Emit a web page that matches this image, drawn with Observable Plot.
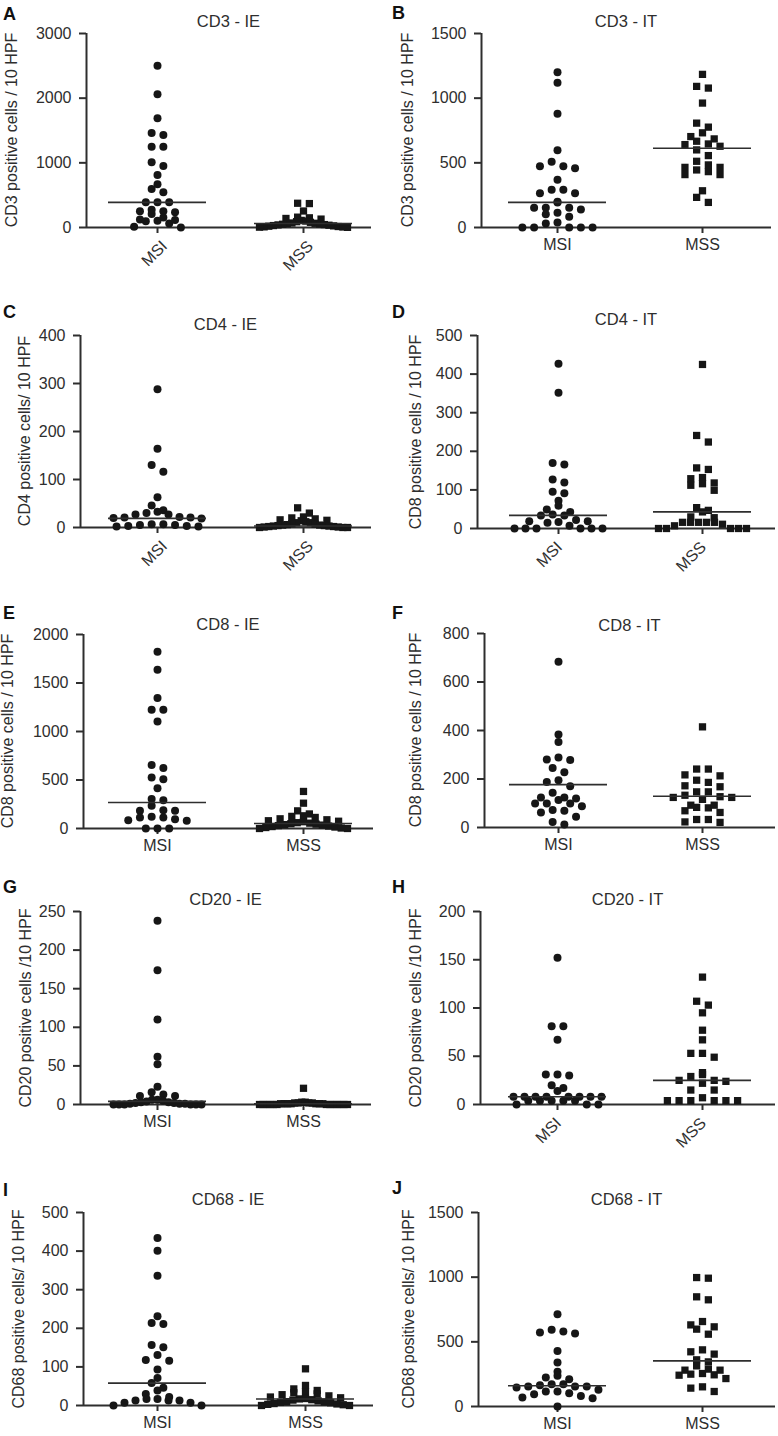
<!DOCTYPE html>
<html><head><meta charset="utf-8">
<script src="https://cdn.jsdelivr.net/npm/d3@7"></script>
<script src="https://cdn.jsdelivr.net/npm/@observablehq/plot@0.6"></script>
<style>
body{margin:0;background:#fff;}
#fig{position:relative;width:778px;height:1436px;font-family:"Liberation Sans",Arial,Helvetica,sans-serif;color:#2e2e2e;overflow:hidden;}
#fig svg{position:absolute;}
.letter{position:absolute;font-weight:bold;font-size:18px;line-height:1;transform:translateY(-50%);color:#111;}
.title{position:absolute;font-size:16.5px;line-height:1;white-space:nowrap;transform:translate(-50%,-50%);}
.ylab{position:absolute;font-size:16px;line-height:1;white-space:nowrap;transform:translate(-50%,-50%) rotate(-90deg);}
</style></head><body><div id="fig"></div>
<script>
// ---------- data ----------
const categories = ["MSI", "MSS"];
const panelLetters = ["A","B","C","D","E","F","G","H","I","J"];
const panelTitles = ["CD3 - IE","CD3 - IT","CD4 - IE","CD4 - IT","CD8 - IE","CD8 - IT","CD20 - IE","CD20 - IT","CD68 - IE","CD68 - IT"];
const yAxisLabels = [
  "CD3 positive cells / 10 HPF","CD3 positive cells / 10 HPF",
  "CD4 positive cells/ 10 HPF","CD8 positive cells / 10 HPF",
  "CD8 positive cells / 10 HPF","CD8 positive cells / 10 HPF",
  "CD20 positive cells /10 HPF","CD20 positive cells /10 HPF",
  "CD68 positive cells/ 10 HPF","CD68 positive cells/ 10 HPF"];
const yTicks = [
  [0,1000,2000,3000],[0,500,1000,1500],
  [0,100,200,300,400],[0,100,200,300,400,500],
  [0,500,1000,1500,2000],[0,200,400,600,800],
  [0,50,100,150,200,250],[0,50,100,150,200],
  [0,100,200,300,400,500],[0,500,1000,1500]];

const cd3IE_MSI = [2500,2060,1690,1460,1430,1250,1250,1010,950,810,670,595,545,390,390,390,250,235,210,250,275,125,105,60,95,115,155,0,10];
const cd3IE_MSS = [375,370,255,160,150,140,130,110,100,90,80,70,65,60,55,50,45,40,35,30,25,20,15,10,8,5,2];
const cd3IT_MSI = [1200,1120,880,597,473,458,473,509,370,264,292,292,264,194,199,153,153,114,103,140,153,83,39,0,0,0,0,0,31];
const cd3IT_MSS = [1184,1091,1078,962,776,807,732,685,646,628,641,667,703,600,556,512,484,465,432,409,409,445,465,284,233,194];
const cd4IE_MSI = [288,164,130,116,63,46,36,33,30,27,27,21,21,20,19,22,7,5,3,2,2,3,5,7];
const cd4IE_MSS = [41,30,22,20,18,16,15,14,12,10,10,8,7,6,5,5,4,4,3,3,2,2,1,1,0,0,0];
const cd4IT_MSI = [427,352,166,170,127,119,95,91,72,59,49,43,34,34,36,17,19,22,19,15,7,0,0,0,0,0,0];
const cd4IT_MSS = [425,224,241,157,153,129,132,112,116,118,99,47,43,54,30,28,16,16,16,16,16,11,7,0,0,0,0,0];
const cd8IE_MSI = [1823,1637,1345,1225,1225,1104,654,623,509,526,416,303,292,234,182,182,189,114,120,114,86,79,96,0,0,0];
const cd8IE_MSS = [382,261,182,150,131,125,114,100,90,80,75,70,60,55,50,45,40,35,30,25,20,15,10,5,0,0];
const cd8IT_MSI = [683,384,353,278,289,280,228,245,188,195,170,143,99,88,124,113,120,124,99,99,72,62,69,44,12,23];
const cd8IT_MSS = [415,241,241,217,213,195,186,172,168,147,147,133,124,127,116,124,92,83,81,92,62,69,33,21,23,33];
const cd20IE_MSI = [238,174,110,62,52,23,13,16,11,11,6,4,6,5,3,2,1,1,0,0,0,0,0,0,2,1,3];
const cd20IE_MSS = [21,3,3,2,2,2,2,1,1,1,1,1,1,1,0,0,0,0,0,0,0,0,0,0,0,0,0];
const cd20IT_MSI = [152,81,81,67,31,30,31,20,17,14,8,8,8,8,8,8,8,8,4,4,4,4,4,0,0,0];
const cd20IT_MSS = [132,103,107,95,77,67,53,53,49,33,31,29,25,24,25,22,15,15,7,4,4,4,4,4,4];
const cd68IE_MSI = [434,401,336,231,214,211,151,157,131,118,116,93,71,58,39,46,30,22,13,13,7,17,7,13,17,0,0];
const cd68IE_MSS = [95,52,43,39,35,33,30,28,25,22,20,18,17,15,14,12,10,9,8,7,5,4,3,2,0,0];
const cd68IT_MSI = [714,593,572,564,580,430,340,268,237,211,224,155,147,173,165,173,155,129,155,116,95,103,116,82,70,64,0];
const cd68IT_MSS = [997,992,825,848,616,657,598,631,559,438,423,405,361,345,314,289,281,250,242,216,245,255,281,152,142,116];

const medianMSI = [388,194,19,34,268,177,4,8,58,160];
const medianMSS = [62,613,3,43,52,129,1,25,17,353];

const seriesMSI = [cd3IE_MSI,cd3IT_MSI,cd4IE_MSI,cd4IT_MSI,cd8IE_MSI,cd8IT_MSI,cd20IE_MSI,cd20IT_MSI,cd68IE_MSI,cd68IT_MSI];
const seriesMSS = [cd3IE_MSS,cd3IT_MSS,cd4IE_MSS,cd4IT_MSS,cd8IE_MSS,cd8IT_MSS,cd20IE_MSS,cd20IT_MSS,cd68IE_MSS,cd68IT_MSS];

// ---------- layout (pixels) ----------
const layout = [
  {x0:0,  y0:0,   w:389,h:285, left:86, right:371, top:33,  zero:227,  msi:157, mss:303, rot:true,  ty:21,   lx:12,  ly:14},
  {x0:389,y0:0,   w:389,h:285, left:481,right:771, top:33,  zero:227,  msi:557, mss:702, rot:false, ty:21,   lx:408, ly:13},
  {x0:0,  y0:285, w:389,h:287, left:80, right:371, top:335, zero:527,  msi:157, mss:303, rot:true,  ty:324,  lx:25,  ly:312},
  {x0:389,y0:285, w:389,h:287, left:477,right:775, top:335, zero:528,  msi:558, mss:702, rot:true,  ty:319,  lx:416, ly:312},
  {x0:0,  y0:572, w:389,h:290, left:83, right:373, top:634, zero:828,  msi:157, mss:303, rot:false, ty:624,  lx:8,   ly:613},
  {x0:389,y0:572, w:389,h:290, left:484,right:775, top:633, zero:827,  msi:558, mss:702, rot:false, ty:625,  lx:416, ly:613},
  {x0:0,  y0:862, w:389,h:288, left:80, right:371, top:911, zero:1104, msi:157, mss:303, rot:false, ty:899,  lx:26,  ly:887},
  {x0:389,y0:862, w:389,h:288, left:480,right:775, top:911, zero:1104, msi:557, mss:702, rot:true,  ty:899,  lx:416, ly:887},
  {x0:0,  y0:1150,w:389,h:286, left:83, right:373, top:1212,zero:1405, msi:157, mss:305, rot:false, ty:1199, lx:19,  ly:1190},
  {x0:389,y0:1150,w:389,h:286, left:478,right:775, top:1212,zero:1406, msi:557, mss:702, rot:false, ty:1199, lx:409, ly:1188}
];

// GraphPad-like column scatter: group points into rows, spread each row
// symmetrically, highest values nearest the centre.
function spread(values, ppu, unitPx) {
  const rowH = 7, step = 11.7, maxHalf = 44;
  const idx = values.map((v, i) => i).sort((a, b) => values[a] - values[b] || a - b);
  const rows = []; let cur = null;
  for (const i of idx) {
    const y = values[i] * ppu;
    if (!cur || y - cur.y0 > rowH) { cur = {y0: y, items: []}; rows.push(cur); }
    cur.items.push(i);
  }
  const out = new Array(values.length);
  for (const row of rows) {
    const n = row.items.length;
    const sp = n > 1 ? Math.min(step, 2 * maxHalf / (n - 1)) : 0;
    const slots = d3.range(n).map(k => k - (n - 1) / 2)
      .sort((p, q) => Math.abs(p) - Math.abs(q) || p - q);
    const items = row.items.slice().sort((a, b) => values[b] - values[a] || a - b);
    items.forEach((i, k) => { out[i] = slots[k] * sp / unitPx; });
  }
  return out;
}

const fig = document.getElementById("fig");
const ink = "#2e2e2e";
const dotFill = "#161616";

layout.forEach((L, p) => {
  const unitPx = L.mss - L.msi;
  const domX = [-(L.msi - L.left) / unitPx, 1 + (L.right - L.mss) / unitPx];
  const ticks = yTicks[p];
  const yMax = ticks[ticks.length - 1];
  const ppu = (L.zero - L.top) / yMax;
  const a = seriesMSI[p], b = seriesMSS[p];
  const oa = spread(a, ppu, unitPx), ob = spread(b, ppu, unitPx);
  const ptsA = a.map((v, i) => ({x: 0 + oa[i], v}));
  const ptsB = b.map((v, i) => ({x: 1 + ob[i], v}));
  const hw = 49 / unitPx;
  const meds = [{g: 0, v: medianMSI[p]}, {g: 1, v: medianMSS[p]}];
  const cats = categories.map((c, i) => ({c, i}));

  const xMarks = L.rot
    ? [Plot.axisX({ticks: [0, 1], tickFormat: () => "", tickSize: 6, label: null, strokeWidth: 2}),
       Plot.text(cats, {x: "i", y: 0, text: "c", rotate: -45, textAnchor: "end", lineAnchor: "middle",
                        dx: L.x0 === 0 ? 7 : 1, dy: 16, fontSize: 16, fill: ink})]
    : [Plot.axisX({ticks: [0, 1], tickFormat: d => categories[d], tickSize: 6, tickPadding: 5,
                   label: null, strokeWidth: 2, fill: ink, fontSize: 16})];

  const svg = Plot.plot({
    width: L.w, height: L.h,
    marginLeft: L.left - L.x0, marginRight: L.x0 + L.w - L.right,
    marginTop: L.top - L.y0, marginBottom: L.y0 + L.h - L.zero,
    x: {type: "linear", domain: domX, axis: null},
    y: {type: "linear", domain: [0, yMax], axis: null},
    style: {background: "transparent", fontFamily: "'Liberation Sans', Arial, Helvetica, sans-serif", fontSize: "16px", color: ink, overflow: "visible"},
    marks: [
      Plot.axisY({ticks: ticks, tickSize: 7, tickPadding: 8, tickFormat: d => String(d), label: null, strokeWidth: 2, fill: ink, fontSize: 16}),
      ...xMarks,
      Plot.ruleX([domX[0]], {stroke: ink, strokeWidth: 2}),
      Plot.ruleY([0], {stroke: ink, strokeWidth: 2}),
      Plot.dot(ptsA, {x: "x", y: "v", r: 4, fill: dotFill, symbol: "circle"}),
      Plot.dot(ptsB, {x: "x", y: "v", r: 4.1, fill: dotFill, symbol: "square"}),
      Plot.ruleY(meds, {y: "v", x1: d => d.g - hw, x2: d => d.g + hw, stroke: ink, strokeWidth: 1.6})
    ]
  });
  svg.style.left = L.x0 + "px";
  svg.style.top = L.y0 + "px";
  fig.appendChild(svg);

  const letter = document.createElement("div");
  letter.className = "letter"; letter.textContent = panelLetters[p];
  letter.style.left = (L.x0 + 3) + "px"; letter.style.top = L.ly + "px";
  fig.appendChild(letter);

  const title = document.createElement("div");
  title.className = "title"; title.textContent = panelTitles[p];
  title.style.left = ((L.left + L.right) / 2) + "px"; title.style.top = L.ty + "px";
  fig.appendChild(title);

  const yl = document.createElement("div");
  yl.className = "ylab"; yl.textContent = yAxisLabels[p];
  yl.style.left = L.lx + "px"; yl.style.top = ((L.top + L.zero) / 2) + "px";
  fig.appendChild(yl);
});
</script></body></html>
